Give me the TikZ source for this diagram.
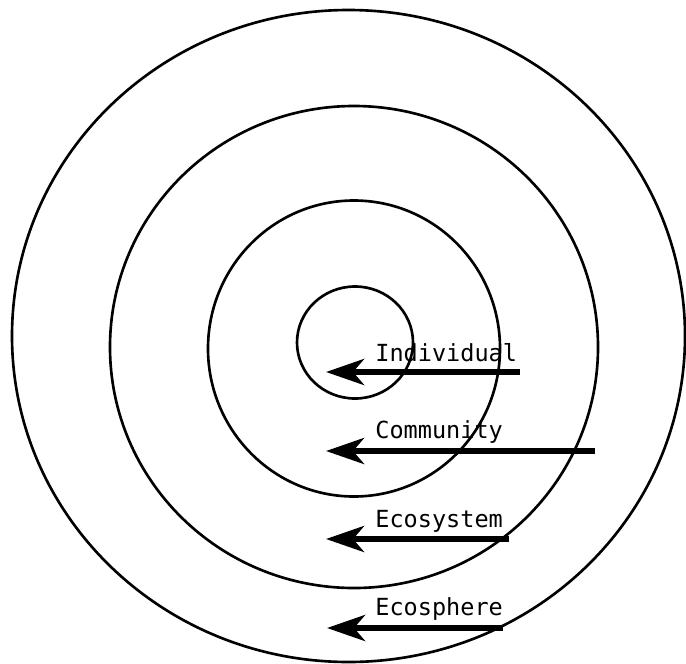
\documentclass[tikz,border=0pt]{standalone}
\usepackage{fontspec}
\newfontfamily\typefont{DejaVu Sans Mono}
\usetikzlibrary{arrows.meta}

\begin{document}
\begin{tikzpicture}[x=0.02cm, y=-0.02cm,
  ring/.style={draw, line width=1.5pt},
  lbl/.style={font=\typefont\fontsize{13.4}{16}\selectfont, anchor=base west,
              inner sep=0pt},
  arr/.style={line width=3.3pt, -{Stealth[length=7.6mm, width=5.2mm, inset=2.2mm]}}]

  \useasboundingbox (0,0) rectangle (686,663);

  % nested levels
  \draw[ring] (355,342.5) ellipse [x radius=58, y radius=56];
  \draw[ring] (354,348.5) ellipse [x radius=146, y radius=148];
  \draw[ring] (354,347) ellipse [x radius=244, y radius=241];
  \draw[ring] (348.5,336) ellipse [x radius=336.5, y radius=326];

  % labels
  \node[lbl] (indiv)  at (375,361) {Individual};
  \node[lbl] (commun) at (375,438) {Community};
  \node[lbl] (ecosys) at (375,527) {Ecosystem};
  \node[lbl] (ecosph) at (375,615) {Ecosphere};

  % arrows into the centre
  \coordinate (indivT)  at (520,372);  \coordinate (indivH)  at (326,372);
  \coordinate (communT) at (595,451);  \coordinate (communH) at (326,451);
  \coordinate (ecosysT) at (509,539);  \coordinate (ecosysH) at (326,539);
  \coordinate (ecosphT) at (503,628);  \coordinate (ecosphH) at (327,628);

  \draw[arr] (indivT) -- (indivH);
  \draw[arr] (communT) -- (communH);
  \draw[arr] (ecosysT) -- (ecosysH);
  \draw[arr] (ecosphT) -- (ecosphH);
\end{tikzpicture}
\end{document}
